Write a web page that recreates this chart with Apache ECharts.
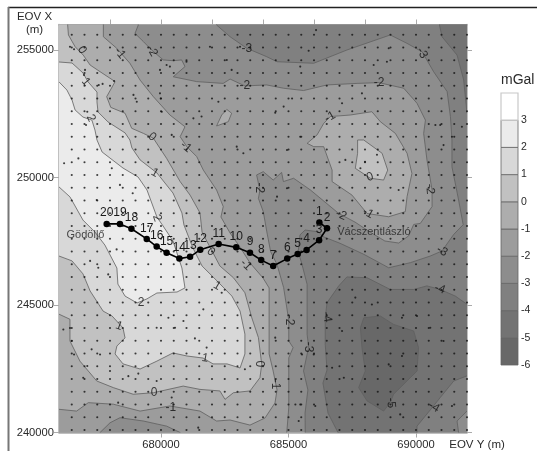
<!DOCTYPE html>
<html><head><meta charset="utf-8">
<style>html,body{margin:0;padding:0;background:#fff}#c{width:537px;height:451px}</style>
<script src="https://cdn.jsdelivr.net/npm/echarts@6/dist/echarts.min.js"></script></head>
<body><div id="c"></div>
<script>
// All coordinates are EOV kilometres [Y(east), X(north)].
const contourBase=[[675.5,239.6],[692.5,239.6],[692.5,256.5],[675.5,256.5]];
const contourMinus2=[[679.1,256.5],[679.11,255.98],[678.98,255.65],[679.31,255.33],[679.63,255.0],[680.09,254.61],[680.48,254.58],[680.81,254.61],[680.94,254.35],[680.48,253.95],[681.4,253.76],[682.44,253.69],[682.71,253.86],[683.29,253.59],[684.14,253.63],[684.81,253.5],[685.59,253.41],[686.51,253.63],[687.69,253.69],[688.54,253.72],[689.52,253.5],[690.04,252.91],[690.37,252.25],[690.3,251.73],[690.43,250.69],[690.63,249.51],[690.63,248.86],[690.17,248.2],[689.91,248.16],[689.71,247.71],[689.32,247.43],[688.78,247.51],[688.2,247.86],[687.61,248.25],[686.97,248.59],[685.86,249.51],[685.2,249.97],[684.8,249.84],[684.73,250.2],[684.4,249.9],[684.01,250.23],[683.75,250.1],[683.82,249.77],[683.88,249.51],[683.82,249.18],[684.01,248.66],[684.08,248.27],[684.15,247.87],[684.3,247.09],[684.55,246.59],[684.81,245.68],[685.01,244.4],[685.01,243.59],[685.18,243.33],[685.01,242.93],[685.01,240.97],[684.9,239.6],[675.5,239.6],[675.5,256.5]];
const contourMinus1=[[677.74,256.5],[677.74,255.98],[677.74,255.52],[678.26,255.07],[678.78,254.48],[679.18,253.82],[679.7,253.17],[680.35,252.45],[680.94,251.99],[680.75,251.6],[681.01,251.21],[681.4,250.82],[681.66,250.29],[682.18,249.51],[682.44,248.86],[682.35,248.45],[682.71,247.82],[683.1,247.27],[683.49,246.65],[684.0,246.06],[684.24,245.67],[684.24,243.08],[684.39,242.45],[684.51,241.86],[684.55,241.67],[684.47,241.16],[684.08,240.57],[683.49,240.29],[682.71,240.49],[682.18,240.45],[681.53,240.84],[680.35,241.04],[679.18,240.84],[678.13,241.11],[677.15,241.17],[676.69,240.84],[676.0,240.91],[675.5,240.91],[675.5,256.5]];
const contourZero=[[676.34,256.5],[676.34,255.98],[676.37,255.59],[676.63,255.13],[676.95,254.8],[677.22,254.41],[677.61,254.15],[678.2,253.76],[677.87,253.17],[678.03,252.75],[678.59,252.52],[678.85,251.93],[679.31,251.73],[679.7,251.54],[680.22,250.75],[680.75,249.84],[681.14,249.31],[681.53,248.61],[681.61,247.86],[682.0,247.12],[682.31,246.53],[682.84,246.07],[683.29,245.48],[683.56,244.5],[683.82,243.72],[683.95,242.67],[683.88,242.15],[683.49,241.63],[682.84,241.56],[682.51,241.3],[682.31,241.63],[681.53,241.69],[680.87,241.82],[679.7,241.56],[678.91,241.5],[678.13,241.76],[677.48,242.02],[676.82,242.8],[676.43,243.59],[676.43,244.44],[676.0,244.64],[675.5,244.64],[675.5,256.5]];
const contourOne=[[675.5,254.53],[676.0,254.53],[676.51,254.49],[676.94,254.1],[677.14,253.75],[677.49,253.35],[677.49,252.96],[677.53,252.57],[677.92,252.18],[678.59,251.75],[678.78,251.47],[678.86,251.16],[679.18,250.69],[679.84,250.18],[680.47,249.39],[680.82,248.61],[680.9,248.14],[681.25,247.24],[681.61,246.53],[682.2,245.94],[682.78,245.35],[683.1,244.76],[683.29,243.86],[683.29,243.08],[683.1,242.53],[682.59,242.69],[682.04,242.69],[681.65,242.92],[681.02,243.0],[680.47,243.12],[679.84,242.8],[679.18,242.49],[678.51,242.69],[678.2,243.08],[678.27,243.39],[678.59,243.71],[678.51,244.1],[678.08,244.57],[677.73,244.76],[677.22,245.55],[676.94,246.22],[676.51,246.73],[676.0,246.92],[675.5,246.92]];
const contourTwo=[[675.5,253.75],[676.0,253.75],[676.31,253.43],[676.51,253.04],[676.63,252.65],[676.94,252.37],[677.29,252.25],[677.41,251.86],[677.49,251.47],[677.69,251.0],[678.51,250.37],[679.1,250.02],[679.45,249.51],[679.84,248.45],[680.08,248.1],[680.47,247.51],[680.82,246.45],[680.94,245.67],[680.63,245.51],[679.84,245.47],[679.45,245.24],[679.06,245.08],[678.59,245.35],[678.31,245.82],[678.27,246.45],[677.8,247.35],[677.41,247.86],[676.94,248.33],[676.43,249.24],[676.0,249.63],[675.5,249.63]];
const contourBottomMinus2=[[677.61,239.6],[677.61,240.0],[678.0,240.38],[678.39,240.58],[679.31,240.45],[680.22,240.25],[680.75,240.0],[680.75,239.6]];
const contourEastMinus1=[[685.73,251.34],[686.12,251.67],[686.38,252.12],[686.64,252.39],[687.42,252.45],[688.27,252.58],[688.6,252.19],[689.19,251.73],[689.65,250.95],[689.84,250.16],[689.65,249.25],[689.58,248.66],[688.93,248.46],[688.08,248.59],[687.49,249.31],[686.71,249.84],[686.71,250.29],[686.38,251.21],[685.99,251.21]];
const contourEastZero=[[687.71,251.47],[687.95,251.47],[688.67,250.95],[688.89,250.29],[688.73,249.9],[688.21,249.97],[687.62,250.36],[687.71,250.95]];
const contourSmallMinus1=[[682.58,252.67],[682.77,252.52],[682.64,252.19],[682.18,252.02],[682.38,252.45]];
const contourMinus3=[[682.18,256.5],[682.18,255.98],[682.71,255.52],[683.36,255.07],[684.14,254.74],[684.55,254.54],[685.99,254.48],[687.29,255.0],[688.99,255.59],[689.65,255.26],[690.24,254.93],[690.69,254.15],[691.22,253.37],[691.35,252.39],[691.41,251.47],[691.41,250.42],[691.67,249.12],[691.85,248.15],[691.48,247.77],[691.02,247.12],[690.56,246.92],[689.78,246.66],[688.93,246.46],[687.95,246.99],[687.02,247.42],[686.36,247.68],[686.17,247.87],[685.65,247.94],[685.45,247.75],[685.38,247.09],[685.53,246.59],[685.73,245.81],[685.73,243.85],[685.79,243.35],[685.59,242.41],[685.76,241.67],[685.65,240.77],[685.66,239.6],[692.5,239.6],[692.5,256.5]];
const contourNorthEastMinus4=[[690.92,256.5],[690.92,255.98],[691.02,255.52],[691.61,254.8],[691.87,253.82],[692.0,252.52],[692.5,252.52],[692.5,256.5]];
const contourSouthMinus4=[[692.5,245.03],[692.0,245.03],[691.54,245.35],[690.95,245.61],[690.43,245.75],[689.91,245.61],[688.99,245.61],[688.08,246.07],[687.29,246.1],[686.97,245.75],[686.51,245.09],[686.44,244.5],[686.44,243.46],[686.51,242.45],[686.35,241.94],[686.55,240.76],[686.94,240.0],[686.94,239.6],[690.04,239.6],[690.04,240.25],[690.63,240.97],[690.95,241.37],[691.48,242.02],[692.0,242.22],[692.5,242.22]];
const contourCornerMinus3=[[692.5,240.84],[692.0,240.84],[691.61,240.45],[691.67,240.0],[691.67,239.6],[692.5,239.6]];
const contourMinus5=[[687.95,244.5],[688.6,244.57],[689.12,244.24],[689.91,243.98],[690.1,243.33],[690.04,242.41],[689.12,241.5],[688.99,241.17],[688.73,240.84],[688.08,241.24],[687.75,241.76],[688.01,242.41],[687.88,243.33],[687.82,244.11]];

const stationColumns=[676.5,677,677.5,678,678.5,679,679.5,680,680.5,681,681.5,682,682.5,683,683.5,684,684.5,685,685.5,686,686.5,687,687.5,688,688.5,689,689.5,690,690.5,691,691.5,692];
const stationRows=[240.1,240.6,241.1,241.6,242.1,242.6,243.1,243.6,244.1,244.6,245.1,245.6,246.1,246.6,247.1,247.6,248.1,248.6,249.1,249.6,250.1,250.6,251.1,251.6,252.1,252.6,253.1,253.6,254.1,254.6,255.1,255.6];
const extraStations=[[676.43,255.13],[676.59,255.03],[677.02,254.22],[676.98,254.02],[677.56,253.63],[677.71,253.67],[678.16,253.78],[677.11,252.58],[677.06,252.06],[676.2,250.56],[676.76,250.75],[677.48,249.12],[678.07,250.36],[678.39,249.71],[678.89,249.38],[680.35,254.35],[679.96,254.22],[680.22,254.41],[681.0,254.54],[681.92,255.13],[682.58,254.61],[683.1,255.13],[682.77,254.22],[681.27,252.32],[681.59,252.39],[682.25,252.97],[682.97,251.21],[683.23,250.95],[680.42,251.67],[678.92,253.24],[679.96,253.3],[679.99,253.1],[679.05,252.97],[680.03,252.58],[686.08,255.78],[685.79,254.97],[688.93,255.07],[685.46,254.35],[688.34,254.41],[688.86,254.54],[685.14,253.1],[684.81,252.78],[684.48,252.54],[687.1,252.91],[687.88,253.3],[688.67,253.1],[684.94,251.08],[685.46,251.6],[687.23,250.69],[688.0,250.62],[688.47,250.89],[687.82,250.36],[689.32,249.51],[690.76,252.06],[690.95,252.06],[691.8,251.99],[691.08,251.27],[691.41,251.6],[684.55,249.25],[685.46,249.12],[684.94,249.58],[676.17,244.04],[676.43,244.1],[676.5,243.59],[676.59,243.06],[677.11,242.61],[676.95,242.15],[677.28,243.26],[677.61,243.06],[678.0,242.41],[678.72,242.21],[679.11,242.31],[680.29,244.5],[680.88,244.37],[679.83,244.11],[680.55,244.11],[681.33,243.69],[681.79,243.33],[681.66,244.83],[682.38,245.48],[678.26,247.18],[677.22,246.73],[677.54,246.46],[677.93,246.2],[680.42,241.37],[679.83,242.02],[678.32,241.17],[681.46,240.19],[683.29,242.48],[684.48,243.72],[685.53,243.06],[685.99,243.06],[685.27,241.1],[685.46,241.1],[685.4,240.45],[687.1,243.98],[687.62,245.29],[688.27,245.02],[689.45,244.5],[690.04,244.57],[690.56,244.11],[691.08,243.59],[686.71,242.54],[687.17,242.15],[689.45,243.0],[688.93,242.67],[686.05,241.04],[689.38,240.71],[691.41,241.04]];

const profileNames=['20','19','18','17','16','15','14','13','12','11','10','9','8','7','6','5','4','3','2','1'];
const profileY=[677.87,678.39,678.84,679.44,679.83,680.22,680.72,681.14,681.54,682.26,682.95,683.49,683.93,684.40,684.95,685.36,685.71,686.2,686.51,686.21];
const profileX=[248.18,248.18,247.99,247.59,247.29,247.05,246.82,246.89,247.17,247.39,247.26,247.05,246.76,246.53,246.82,247.0,247.16,247.54,248.01,248.24];

const placeNames=['Gödöllő','Vácszentlászló'];
const placeY=[677.04,688.35];
const placeX=[247.75,247.86];

const contourLabelText=['0','-1','-2','-3','1','2','0','-1','1','-2','-2','2','-3','-2','-1','0','-2','-1','-2','0','-1','1','2','1','1','0','0','-1','-3','-4','-2','-4','-3','-1','-5','-4'];
const contourLabelY=[676.90,678.39,679.65,683.37,677.06,677.25,679.65,680.98,679.76,683.29,683.84,679.84,690.24,688.55,686.63,688.2,690.55,688.12,687.06,681.96,683.33,682.2,679.22,678.35,681.73,683.96,679.73,680.39,691.02,690.94,685.02,686.51,685.76,684.47,689.02,690.71];
const contourLabelX=[255.0,254.88,254.96,255.04,253.75,252.33,251.59,251.2,250.18,253.59,249.59,248.41,254.88,253.71,252.37,250.02,249.55,248.61,248.53,247.08,246.57,245.75,245.08,244.18,242.92,242.69,241.55,240.96,247.12,245.63,244.41,244.53,243.35,241.9,241.16,241.0];
const contourLabelAngle=[-60,-50,-60,0,-50,-65,-40,-40,-30,0,-90,-70,-60,0,30,20,-85,-30,-25,-40,-45,-30,0,-20,-10,90,0,0,-30,-20,-90,-80,-90,-90,-85,-30];

const xTickLabels=[680000,685000,690000];
const yTickLabels=[240000,245000,250000,255000];
const topTicks=[678000,680000,682000,684000,686000,688000,690000];
const legendLevels=[-6,-5,-4,-3,-2,-1,0,1,2,3,4];
const legendTicks=[-6,-5,-4,-3,-2,-1,0,1,2,3];

const bandColor={'-6':'#686868','-5':'#737373','-4':'#808080','-3':'#8d8d8d','-2':'#9c9c9c','-1':'#adadad','0':'#c1c1c1','1':'#d8d8d8','2':'#ebebeb','3':'#ffffff'};
const m=p=>[p[0]*1000,p[1]*1000];
const layers=[
 {pts:contourBase,band:-3},
 {pts:contourMinus2,band:-2},{pts:contourMinus1,band:-1},{pts:contourZero,band:0},{pts:contourOne,band:1},{pts:contourTwo,band:2},
 {pts:contourBottomMinus2,band:-3},{pts:contourEastMinus1,band:-1},{pts:contourEastZero,band:0},{pts:contourSmallMinus1,band:-1},
 {pts:contourMinus3,band:-4},{pts:contourNorthEastMinus4,band:-5},{pts:contourSouthMinus4,band:-5},{pts:contourCornerMinus3,band:-3},{pts:contourMinus5,band:-6}
];
const stations=[];
stationRows.forEach(y=>stationColumns.forEach(x=>stations.push([x*1000,y*1000])));
extraStations.forEach(p=>stations.push(m(p)));
const font='"Liberation Sans",Arial,sans-serif', ink='#2a2a2a', axisGray='#ababab';
const XMIN=676000,XMAX=692000,YMIN=240000,YMAX=256000;
const baseX={type:'value',min:XMIN,max:XMAX,splitLine:{show:false},gridIndex:0,axisLine:{onZero:false,lineStyle:{color:axisGray,width:1.5}}};
const baseY={type:'value',min:YMIN,max:YMAX,splitLine:{show:false},gridIndex:0,axisLine:{onZero:false,lineStyle:{color:axisGray,width:1.5}}};
const legendBands=legendLevels.slice(0,-1).map((v,i)=>[v,legendLevels[i+1]]);

const chart=echarts.init(document.getElementById('c'),null,{renderer:'canvas'});
chart.setOption({
 animation:false,backgroundColor:'#fff',
 grid:[{left:59,top:24.5,width:408,height:408},{left:501,top:93,width:17,height:272}],
 xAxis:[
  {...baseX,position:'bottom',axisTick:{length:5,lineStyle:{color:axisGray},customValues:xTickLabels},
   axisLabel:{customValues:xTickLabels,margin:7,color:ink,fontFamily:font,fontSize:11.2,formatter:v=>String(v)}},
  {...baseX,position:'top',axisTick:{length:5,lineStyle:{color:axisGray},customValues:topTicks},axisLabel:{show:false}},
  {type:'value',gridIndex:1,min:0,max:1,show:false}
 ],
 yAxis:[
  {...baseY,position:'left',axisTick:{length:5,lineStyle:{color:axisGray},customValues:yTickLabels},
   axisLabel:{customValues:yTickLabels,margin:5,color:ink,fontFamily:font,fontSize:11.2,formatter:v=>String(v)}},
  {...baseY,position:'right',axisTick:{length:5,lineStyle:{color:axisGray},customValues:yTickLabels},axisLabel:{show:false}},
  {type:'value',gridIndex:1,min:-6,max:4,position:'right',splitLine:{show:false},axisLine:{show:false},axisTick:{show:false},
   axisLabel:{customValues:legendTicks,margin:3,color:ink,fontFamily:font,fontSize:10.5,formatter:v=>String(v)}}
 ],
 series:[
  {type:'custom',xAxisIndex:0,yAxisIndex:0,clip:true,z:1,silent:true,data:layers.map((l,i)=>[i]),encode:{x:-1,y:-1},
   renderItem(params,api){
    const l=layers[api.value(0)];
    return {type:'polygon',shape:{points:l.pts.map(p=>api.coord(m(p)))},style:{fill:bandColor[l.band],stroke:'#606060',lineWidth:0.8}};
   }},
  {type:'scatter',xAxisIndex:0,yAxisIndex:0,z:2,silent:true,symbolSize:2.1,itemStyle:{color:'#111'},data:stations},
  {type:'scatter',xAxisIndex:0,yAxisIndex:0,z:3,silent:true,symbolSize:0,
   data:contourLabelText.map((t,i)=>({value:[contourLabelY[i]*1000,contourLabelX[i]*1000],
     label:{show:true,position:'inside',formatter:t,rotate:contourLabelAngle[i],fontFamily:font,fontSize:12,color:'#111'}}))},
  {type:'line',xAxisIndex:0,yAxisIndex:0,z:4,silent:true,symbol:'circle',symbolSize:6.5,lineStyle:{color:'#000',width:1.6},itemStyle:{color:'#000'},
   data:profileNames.map((n,i)=>({value:[profileY[i]*1000,profileX[i]*1000],
     label:{show:true,position:'top',distance:1.5,formatter:n,fontFamily:font,fontSize:12,color:'#1a1a1a'}}))},
  {type:'scatter',xAxisIndex:0,yAxisIndex:0,z:4,silent:true,symbolSize:0,
   data:placeNames.map((n,i)=>({value:[placeY[i]*1000,placeX[i]*1000],
     label:{show:true,position:'inside',formatter:n,fontFamily:font,fontSize:11,color:'#222'}}))},
  {type:'custom',xAxisIndex:2,yAxisIndex:2,z:1,silent:true,data:legendBands,encode:{x:-1,y:[0,1]},
   renderItem(params,api){
    const lo=api.value(0),hi=api.value(1);
    const a=api.coord([0,hi]),b=api.coord([1,lo]);
    return {type:'rect',shape:{x:a[0],y:a[1],width:b[0]-a[0],height:b[1]-a[1]},
      style:{fill:bandColor[lo],stroke:lo===3?'#c8c8c8':'#666',lineWidth:lo===3?1.2:0.8}};
   }}
 ],
 graphic:[
  {type:'line',silent:true,shape:{x1:8,y1:7.5,x2:537,y2:7.5},style:{stroke:'#222',lineWidth:1.5}},
  {type:'line',silent:true,shape:{x1:8.5,y1:7,x2:8.5,y2:451},style:{stroke:'#777',lineWidth:2}},
  {type:'text',silent:true,x:34.5,y:17,style:{text:'EOV X',font:'11.5px '+font,fill:ink,align:'center',verticalAlign:'middle'}},
  {type:'text',silent:true,x:34.5,y:30,style:{text:'(m)',font:'11.5px '+font,fill:ink,align:'center',verticalAlign:'middle'}},
  {type:'text',silent:true,x:477,y:445,style:{text:'EOV Y (m)',font:'11.5px '+font,fill:ink,align:'center',verticalAlign:'middle'}},
  {type:'text',silent:true,x:501,y:80.5,style:{text:'mGal',font:'14px '+font,fill:ink,align:'left',verticalAlign:'middle'}}
 ]
});
</script></body></html>
